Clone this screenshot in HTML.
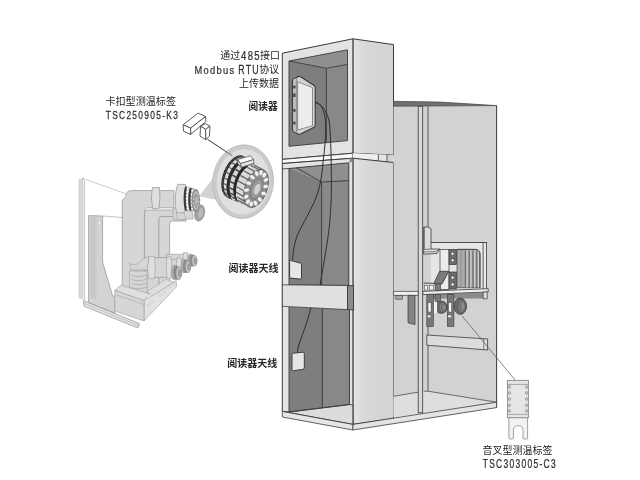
<!DOCTYPE html>
<html lang="zh"><head><meta charset="utf-8"><title>Wireless temperature monitoring diagram</title>
<style>
html,body{margin:0;padding:0;background:#fff;}
body{width:640px;height:480px;overflow:hidden;font-family:"Liberation Sans",sans-serif;}
svg{display:block;filter:grayscale(1) blur(0.3px);}
text{font-family:"Liberation Sans",sans-serif;fill:#333;}
text.cjk{font-family:"Liberation Sans","Noto Sans CJK SC",sans-serif;fill:#262626;}
</style></head><body>
<svg width="640" height="480" viewBox="0 0 640 480" stroke-linejoin="miter" stroke-linecap="butt">
<defs>
<linearGradient id="gside" x1="0" y1="0" x2="1" y2="0"><stop offset="0" stop-color="#e2e2e2"/><stop offset="0.35" stop-color="#d8d8d8"/><stop offset="1" stop-color="#d3d3d3"/></linearGradient>
</defs>
<rect width="640" height="480" fill="#ffffff"/>
<g id="cabinet">
<polygon points="352.9,38.8 393.5,44.6 393.5,155.2 352.9,153.2" fill="url(#gside)" stroke="#3a3a3a" stroke-width="1" />
<polygon points="282.3,53.2 352.9,38.8 352.9,153.2 282.3,159.4" fill="#e3e3e3" stroke="#3a3a3a" stroke-width="1" />
<polygon points="289,61 326.4,68.3 326.4,142.7 289,146.3" fill="#7b7e82" stroke="none" stroke-width="1" />
<polygon points="326.4,68.3 347.5,64.4 347.5,140.6 326.4,142.7" fill="#85888c" stroke="none" stroke-width="1" />
<polygon points="289,61 347.5,49.8 347.5,64.4 326.4,68.3" fill="#8c8f93" stroke="none" stroke-width="1" />
<polyline points="289,61 326.4,68.3 347.5,64.4" fill="none" stroke="#3a3a3a" stroke-width="0.9" />
<polyline points="326.4,68.3 326.4,142.7" fill="none" stroke="#3a3a3a" stroke-width="0.9" />
<polygon points="289,61 347.5,49.8 347.5,140.6 289,146.3" fill="none" stroke="#3a3a3a" stroke-width="0.9" />
<polygon points="282.3,159.4 352.9,153.2 352.9,158.2 282.3,163.5" fill="#f8f8f8" stroke="#3a3a3a" stroke-width="0.9" />
<polygon points="352.9,153.2 393.5,155.2 393.5,162.5 352.9,158.2" fill="#d2d2d2" stroke="none" stroke-width="1" />
<polygon points="352.9,153.2 378.2,154.4 378.2,160.9 352.9,158.2" fill="#eeeeee" stroke="none" stroke-width="1" />
<polygon points="378.2,154.4 387,154.8 387,161.8 378.2,160.9" fill="#e4e4e4" stroke="none" stroke-width="1" />
<polyline points="378.4,154.4 378.4,160.9" fill="none" stroke="#3a3a3a" stroke-width="0.8" />
<polyline points="387,154.8 387,161.8" fill="none" stroke="#3a3a3a" stroke-width="0.8" />
<polygon points="352.9,158.2 393.5,162.5 393.5,418.5 352.9,424.4" fill="url(#gside)" stroke="#3a3a3a" stroke-width="1" />
<polygon points="282.3,163.5 352.9,158.2 352.9,424.4 282.3,411.4" fill="#e3e3e3" stroke="#3a3a3a" stroke-width="1" />
<polygon points="289,168.5 348.8,162.8 348.8,285.5 289,285" fill="#7b7e82" stroke="none" stroke-width="1" />
<polygon points="321.6,182 348.8,180.6 348.8,285.5 321.6,285.3" fill="#85888c" stroke="none" stroke-width="1" />
<polygon points="289,168.5 348.8,162.8 348.8,180.6 321.6,182" fill="#8c8f93" stroke="none" stroke-width="1" />
<polyline points="296.5,167.8 321.6,182 348.8,180.6" fill="none" stroke="#3a3a3a" stroke-width="0.9" />
<polyline points="321.6,182 321.6,285.3" fill="none" stroke="#3a3a3a" stroke-width="0.9" />
<polygon points="289,168.5 348.8,162.8 348.8,285.5 289,285" fill="none" stroke="#3a3a3a" stroke-width="0.9" />
<polygon points="289,306.8 349.5,309.7 349.5,404.5 289,412" fill="#7b7e82" stroke="none" stroke-width="1" />
<polygon points="322.4,308.3 349.5,309.7 349.5,404.5 322.4,407.8" fill="#85888c" stroke="none" stroke-width="1" />
<polygon points="289,412 349.5,404.5 352.9,405 352.9,424.4 282.3,411.4" fill="#dcdcdc" stroke="#3a3a3a" stroke-width="0.9" />
<polyline points="322.4,308.3 322.4,407.8" fill="none" stroke="#3a3a3a" stroke-width="0.9" />
<polyline points="289,306.8 289,412 349.5,404.5 349.5,309.7" fill="none" stroke="#3a3a3a" stroke-width="0.9" />
<polygon points="282.3,284.8 347.5,285.5 347.5,309.6 282.3,306.3" fill="#e0e0e0" stroke="#3a3a3a" stroke-width="0.8" />
<polygon points="347.5,285.5 353.5,285.7 353.5,310 347.5,309.6" fill="#8a8a8a" stroke="#3a3a3a" stroke-width="0.9" />
<polygon points="282.3,411.4 352.9,424.4 352.9,430 282.3,417" fill="#e6e6e6" stroke="#3a3a3a" stroke-width="0.8" />
<polygon points="349.6,158.5 352.4,158.3 352.4,162.1 349.6,162.4" fill="#8a8a8a" stroke="none" stroke-width="1" />
<polyline points="282.3,168.9 289,168.5" fill="none" stroke="#3a3a3a" stroke-width="0.9" />
</g>
<g id="reader">
<path d="M293.3 79 Q292.4 79.3 292.4 80.5 V129.6 Q292.4 130.8 293.4 131.3 L298 134 Q299.2 134.5 300.4 134 L314 127.3 Q315.2 126.7 315.2 125.5 V87.2 Q315.2 85.9 314 85.4 L300.3 76.6 Q299.2 76.1 298 76.7 Z" fill="#d2d2d2" stroke="#383838" stroke-width="1.1" />
<rect x="293.2" y="85.6" width="2.2" height="2.8" fill="#555" stroke="none" stroke-width="0.8" />
<rect x="293.2" y="93.4" width="2.2" height="3.6" fill="#555" stroke="none" stroke-width="0.8" />
<rect x="293.2" y="109" width="2.2" height="2.8" fill="#555" stroke="none" stroke-width="0.8" />
<rect x="293.2" y="121.6" width="2.2" height="2.8" fill="#555" stroke="none" stroke-width="0.8" />
<polygon points="293,79.6 296.7,78 296.7,132.8 293,130.8" fill="#bcbcbc" stroke="none" stroke-width="1" />
<polyline points="296.7,78.4 296.7,132.6" fill="none" stroke="#666" stroke-width="0.6" />
<rect x="293.3" y="85.6" width="2.2" height="2.8" fill="#444" stroke="none" stroke-width="0.8" />
<rect x="293.3" y="93.4" width="2.2" height="3.6" fill="#444" stroke="none" stroke-width="0.8" />
<rect x="293.3" y="109" width="2.2" height="2.8" fill="#444" stroke="none" stroke-width="0.8" />
<rect x="293.3" y="121.6" width="2.2" height="2.8" fill="#444" stroke="none" stroke-width="0.8" />
<polygon points="297.6,81.8 312.5,87.6 312.5,125.7 297.6,130" fill="#ececec" stroke="#666" stroke-width="0.7" />
<path d="M315.2 101.6 C321 103.5 324.6 110 325.6 122 C326.2 135 324.6 150 323.2 160 C322.4 170 321.6 180 318 192 C313 208 303 222 297 236 C294 245 292.8 252 292.7 260" fill="none" stroke="#2e2e2e" stroke-width="1" />
<path d="M315.2 102.6 C322 104 328 112 329.6 124 C330.8 140 331.4 160 331.4 185 C331.4 210 329 232 327.2 242 C325 258 322 272 320.2 284.8" fill="none" stroke="#2e2e2e" stroke-width="1" />
<path d="M310.8 307.6 C309 316 306.5 323 304.5 329 C302 336 299.6 342 298.6 346 C297.8 349 297.5 351 297.5 352.6" fill="none" stroke="#2e2e2e" stroke-width="1" />
<path d="M290.6 260.5 L300.4 263.1 Q301.5 263.4 301.5 264.6 V278 Q301.5 279.2 300.4 279.1 L290.6 278.1 Q289.6 278 289.6 277 V261.4 Q289.6 260.2 290.6 260.5 Z" fill="#e6e6e6" stroke="#3c3c3c" stroke-width="1" />
<path d="M293.4 353.2 L302.8 352.2 Q304.3 352 304.3 353.5 V367.8 Q304.3 369.2 302.8 369.4 L293.4 370.7 Q292 370.9 292 369.4 V354.7 Q292 353.4 293.4 353.2 Z" fill="#e6e6e6" stroke="#3c3c3c" stroke-width="1" />
</g>
<g id="rear">
<polygon points="393.5,101.3 440,102 496.6,105.6 496.6,402.2 393.5,417" fill="#d2d2d2" stroke="none" stroke-width="1" />
<polygon points="393.5,396.3 419.2,392 423.8,391.3 428,391.2 496.6,402.2 393.5,417" fill="#dedede" stroke="none" stroke-width="1" />
<polygon points="393.5,101.3 440,102 496.6,105.6 393.5,106.3" fill="#707070" stroke="#3a3a3a" stroke-width="0.6" />
<polyline points="496.6,105.6 496.6,407.6" fill="none" stroke="#3a3a3a" stroke-width="1" />
<polyline points="393.5,396.3 419.2,392" fill="none" stroke="#3a3a3a" stroke-width="0.7" />
<polyline points="423.8,391.3 428,391.2 496.6,402.2" fill="none" stroke="#3a3a3a" stroke-width="0.7" />
<rect x="418.2" y="106.3" width="4.5" height="306.5" fill="#d8d8d8" stroke="#3a3a3a" stroke-width="0.8" />
<polyline points="428,106.3 428,227.5" fill="none" stroke="#3a3a3a" stroke-width="0.8" />
<polyline points="428,325 428,391.2" fill="none" stroke="#3a3a3a" stroke-width="0.8" />
<polygon points="352.9,424.4 496.6,402.2 496.6,407.6 352.9,430" fill="#e4e4e4" stroke="#3a3a3a" stroke-width="0.8" />
<polygon points="393.5,291.4 418.2,291.4 418.2,295.4 393.5,295.4" fill="#efefef" stroke="#3a3a3a" stroke-width="0.7" />
<rect x="395.8" y="295.4" width="6.6" height="3.8" fill="#a8a8a8" stroke="#3a3a3a" stroke-width="0.6" />
<polygon points="408,295.4 415,295.4 415,324.6 408,322.8" fill="#808386" stroke="#3a3a3a" stroke-width="0.7" />
</g>
<g id="busbar">
<polygon points="431,242.5 486.6,242.5 486.6,289 431,291" fill="#e6e6e6" stroke="none" stroke-width="1" />
<polygon points="423.6,227 428,227 431,228.8 431,249 439.6,249 437,253.5 423.6,254.2" fill="#dcdcdc" stroke="#3a3a3a" stroke-width="0.8" />
<polyline points="424.4,227.2 424.4,249.5 431,249" fill="none" stroke="#3a3a3a" stroke-width="0.6" />
<polyline points="423.6,252 436,251.6 439.6,249" fill="none" stroke="#3a3a3a" stroke-width="0.6" />
<polyline points="431,242.5 486.6,242.5" fill="none" stroke="#3a3a3a" stroke-width="0.9" />
<rect x="483.1" y="242.5" width="3.5" height="47" fill="#e9e9e9" stroke="#3a3a3a" stroke-width="0.8" />
<rect x="440" y="249.4" width="9" height="40" fill="#ececec" stroke="#3a3a3a" stroke-width="0.7" />
<path d="M457 249.4 H475.5 Q480 249.6 480 254.5 V287.7 H457 Z" fill="#acacac" stroke="#3a3a3a" stroke-width="0.7" />
<path d="M465.4 250.4 V287.5" fill="none" stroke="#6a6a6a" stroke-width="1.2" />
<path d="M467 250.4 V287.5" fill="none" stroke="#cdcdcd" stroke-width="1.2" />
<path d="M469.2 250.4 V287.5" fill="none" stroke="#6a6a6a" stroke-width="1.2" />
<path d="M470.8 250.4 V287.5" fill="none" stroke="#cdcdcd" stroke-width="1.2" />
<path d="M473 250.4 V287.5" fill="none" stroke="#6a6a6a" stroke-width="1.2" />
<path d="M474.6 250.4 V287.5" fill="none" stroke="#cdcdcd" stroke-width="1.2" />
<path d="M476.8 250.4 V287.5" fill="none" stroke="#6a6a6a" stroke-width="1.2" />
<path d="M478.4 250.4 V287.5" fill="none" stroke="#cdcdcd" stroke-width="1.2" />
<path d="M457 249.4 H475.5 Q480 249.6 480 254.5 V287.7" fill="none" stroke="#3a3a3a" stroke-width="0.7" />
<path d="M461 249.4 V287.7" fill="none" stroke="#777" stroke-width="0.6" />
<rect x="449" y="249.4" width="7.3" height="15.2" fill="#6c6c6c" stroke="#3a3a3a" stroke-width="0.7" />
<ellipse cx="452.6" cy="253.8" rx="1.55" ry="1.55" fill="#ffffff" stroke="#3c3c3c" stroke-width="0.6" />
<ellipse cx="452.6" cy="260.3" rx="1.55" ry="1.55" fill="#ffffff" stroke="#3c3c3c" stroke-width="0.6" />
<rect x="449" y="272" width="7.3" height="17" fill="#6c6c6c" stroke="#3a3a3a" stroke-width="0.7" />
<ellipse cx="452.6" cy="277.6" rx="1.55" ry="1.55" fill="#ffffff" stroke="#3c3c3c" stroke-width="0.6" />
<ellipse cx="452.6" cy="284.4" rx="1.55" ry="1.55" fill="#ffffff" stroke="#3c3c3c" stroke-width="0.6" />
<polygon points="439.6,271.3 448.9,271.3 442,284 433.6,284" fill="#7a7a7a" stroke="#3a3a3a" stroke-width="0.8" />
<polyline points="423.6,283 433.6,283.4" fill="none" stroke="#3a3a3a" stroke-width="0.9" />
<rect x="424.4" y="285.6" width="3.2" height="4.4" fill="#f2f2f2" stroke="#3a3a3a" stroke-width="0.5" />
<rect x="429.4" y="285.6" width="4.2" height="4.4" fill="#f2f2f2" stroke="#3a3a3a" stroke-width="0.5" />
<rect x="435" y="284" width="5.6" height="7" fill="#7a7a7a" stroke="#3a3a3a" stroke-width="0.5" />
<polygon points="427.5,294.6 485,292.4 485,298.6 427.5,298.8" fill="#8c8c8c" stroke="none" stroke-width="1" />
<ellipse cx="441.2" cy="307.2" rx="6.2" ry="6.2" fill="#6a6a6a" stroke="#3a3a3a" stroke-width="0.7" />
<ellipse cx="442.75" cy="307.2" rx="3.844" ry="4.96" fill="#7e7e7e" stroke="#444" stroke-width="0.5" />
<ellipse cx="443.804" cy="307.2" rx="2.232" ry="3.41" fill="#8e8e8e" stroke="#444" stroke-width="0.5" />
<ellipse cx="444.61" cy="307.2" rx="0.992" ry="1.86" fill="#9c9c9c" stroke="#555" stroke-width="0.4" />
<ellipse cx="460.2" cy="306.2" rx="6.4" ry="8.2" fill="#6a6a6a" stroke="#3a3a3a" stroke-width="0.7" />
<ellipse cx="461.8" cy="306.2" rx="3.968" ry="6.56" fill="#7e7e7e" stroke="#444" stroke-width="0.5" />
<ellipse cx="462.888" cy="306.2" rx="2.304" ry="4.51" fill="#8e8e8e" stroke="#444" stroke-width="0.5" />
<ellipse cx="463.72" cy="306.2" rx="1.024" ry="2.46" fill="#9c9c9c" stroke="#555" stroke-width="0.4" />
<rect x="434" y="301.5" width="3" height="11.5" fill="#f0f0f0" stroke="none" stroke-width="0.8" />
<rect x="426.8" y="294.5" width="6.5" height="32" fill="#787878" stroke="#3a3a3a" stroke-width="0.6" />
<rect x="428" y="302.6" width="3.1" height="9.4" fill="#f4f4f4" stroke="#444" stroke-width="0.5" />
<rect x="427.4" y="315" width="3.5" height="2.6" fill="#f4f4f4" stroke="#444" stroke-width="0.4" />
<rect x="447.3" y="294.5" width="6.6" height="32" fill="#787878" stroke="#3a3a3a" stroke-width="0.6" />
<rect x="448.5" y="302.6" width="3.2" height="9.4" fill="#f4f4f4" stroke="#444" stroke-width="0.5" />
<rect x="447.9" y="315" width="3.6" height="2.6" fill="#f4f4f4" stroke="#444" stroke-width="0.4" />
<rect x="435" y="294.5" width="5.6" height="6.8" fill="#787878" stroke="#3a3a3a" stroke-width="0.5" />
<polygon points="422.8,291.4 488.2,288.7 488.2,291.9 422.8,294.6" fill="#f2f2f2" stroke="#3a3a3a" stroke-width="0.8" />
<polygon points="483.2,292.1 487.2,291.9 487.2,298.8 483.2,298.8" fill="#dedede" stroke="#3a3a3a" stroke-width="0.7" />
<polygon points="426.8,335 487.6,339 487.6,350 426.8,345.2" fill="#dcdcdc" stroke="#3a3a3a" stroke-width="0.8" />
<polyline points="483.8,338.8 483.8,349.6" fill="none" stroke="#3a3a3a" stroke-width="0.6" />
<polyline points="462,315.8 515,380" fill="none" stroke="#555" stroke-width="0.7" />
</g>
<g id="breaker">
<polygon points="79,179.6 83,179.2 83,299.5 79,297.5" fill="#d8d8d8" stroke="#c4c4c4" stroke-width="0.6" />
<polyline points="84.6,180.5 84.6,300.5" fill="none" stroke="#ababab" stroke-width="0.7" />
<polyline points="84.4,179 125.6,193.6" fill="none" stroke="#a8a8a8" stroke-width="0.6" />
<ellipse cx="83" cy="178.6" rx="0.9" ry="0.9" fill="#ccc" stroke="#aaa" stroke-width="0.4" />
<polygon points="83.6,300.6 139.4,323.6 138,328 84,306.2" fill="#e4e4e4" stroke="#9c9c9c" stroke-width="0.8" />
<polyline points="84,303.4 138.8,325.8" fill="none" stroke="#9c9c9c" stroke-width="0.5" />
<polygon points="88.6,215.6 102.6,216 102.6,262 112.6,296 115,296 115,313 88.6,302.6" fill="#d3d3d3" stroke="#9c9c9c" stroke-width="0.8" />
<polygon points="90,217 96.4,217.2 96.4,300 90,297.5" fill="#c8c8c8" stroke="none" stroke-width="1" />
<ellipse cx="99.5" cy="223.2" rx="1.3" ry="2.7" fill="#ffffff" stroke="#9c9c9c" stroke-width="0.5" />
<polyline points="102.6,216 122.2,217.5" fill="none" stroke="#9c9c9c" stroke-width="0.6" />
<path d="M158.6 290 V219 Q158.6 216 161.5 216 H186 V221 H172.4 Q169.6 221 169.6 224 V290 Z" fill="#d6d6d6" stroke="#9c9c9c" stroke-width="0.8" />
<path d="M144.2 292 V213.5 Q144.2 210 147.5 210 H184 V216.5 H161 Q158.8 216.5 158.8 219 V292 Z" fill="#d6d6d6" stroke="#9c9c9c" stroke-width="0.8" />
<ellipse cx="199.6" cy="213" rx="4.8" ry="8.2" fill="#a6a6a6" stroke="#777" stroke-width="0.6" transform="rotate(12 199.6 213)"/>
<ellipse cx="200.6" cy="213.2" rx="3" ry="5.6" fill="#b9b9b9" stroke="#888" stroke-width="0.4" transform="rotate(12 200.6 213.2)"/>
<polygon points="173,208 190,208 193,214 193,219 173,219" fill="#d6d6d6" stroke="#9c9c9c" stroke-width="0.6" />
<path d="M122.2 290 V200.2 L125.6 196.8 L126.3 193.6 Q127.5 190.6 131.3 190.6 H174 V207.8 H148 Q144.4 207.8 144.4 212 V290 Z" fill="#d6d6d6" stroke="#9c9c9c" stroke-width="0.8" />
<path d="M152.4 187.6 Q150.4 198 152.6 208.6 H158.8 Q160.8 198 159.4 187.6 Z" fill="#dfdfdf" stroke="#9c9c9c" stroke-width="0.8" />
<path d="M177.6 184.4 Q173.4 198 176.6 213 H184 Q187.4 199 185.6 184.4 Z" fill="#dfdfdf" stroke="#9c9c9c" stroke-width="0.8" />
<ellipse cx="186" cy="198.6" rx="2.4" ry="12.4" fill="#3a3a3a" stroke="none" stroke-width="0.8" />
<ellipse cx="188.3" cy="199" rx="2.4" ry="12.152" fill="#dcdcdc" stroke="#666" stroke-width="0.5" />
<ellipse cx="187.52" cy="188.68" rx="1.1" ry="1.1" fill="#ffffff" stroke="none" stroke-width="0.8" />
<ellipse cx="187.2" cy="191.987" rx="1.1" ry="1.1" fill="#ffffff" stroke="none" stroke-width="0.8" />
<ellipse cx="187.047" cy="195.293" rx="1.1" ry="1.1" fill="#ffffff" stroke="none" stroke-width="0.8" />
<ellipse cx="187" cy="198.6" rx="1.1" ry="1.1" fill="#ffffff" stroke="none" stroke-width="0.8" />
<ellipse cx="187.047" cy="201.907" rx="1.1" ry="1.1" fill="#ffffff" stroke="none" stroke-width="0.8" />
<ellipse cx="187.2" cy="205.213" rx="1.1" ry="1.1" fill="#ffffff" stroke="none" stroke-width="0.8" />
<ellipse cx="187.52" cy="208.52" rx="1.1" ry="1.1" fill="#ffffff" stroke="none" stroke-width="0.8" />
<ellipse cx="190.7" cy="199.4" rx="2.5" ry="11.904" fill="#3a3a3a" stroke="none" stroke-width="0.8" />
<ellipse cx="193" cy="199.8" rx="2.5" ry="11.656" fill="#cfcfcf" stroke="#666" stroke-width="0.5" />
<ellipse cx="192.14" cy="190.5" rx="1" ry="1" fill="#ffffff" stroke="none" stroke-width="0.8" />
<ellipse cx="191.839" cy="194.22" rx="1" ry="1" fill="#ffffff" stroke="none" stroke-width="0.8" />
<ellipse cx="191.715" cy="197.94" rx="1" ry="1" fill="#ffffff" stroke="none" stroke-width="0.8" />
<ellipse cx="191.715" cy="201.66" rx="1" ry="1" fill="#ffffff" stroke="none" stroke-width="0.8" />
<ellipse cx="191.839" cy="205.38" rx="1" ry="1" fill="#ffffff" stroke="none" stroke-width="0.8" />
<ellipse cx="192.14" cy="209.1" rx="1" ry="1" fill="#ffffff" stroke="none" stroke-width="0.8" />
<ellipse cx="195.8" cy="200.4" rx="3.9" ry="11.16" fill="#9c9c9c" stroke="#6a6a6a" stroke-width="0.6" />
<ellipse cx="198.859" cy="201.821" rx="0.8" ry="1.3" fill="#dedede" stroke="#7a7a7a" stroke-width="0.3" />
<ellipse cx="198.268" cy="205.661" rx="0.8" ry="1.3" fill="#dedede" stroke="#7a7a7a" stroke-width="0.3" />
<ellipse cx="197.123" cy="208.09" rx="0.8" ry="1.3" fill="#dedede" stroke="#7a7a7a" stroke-width="0.3" />
<ellipse cx="195.731" cy="208.46" rx="0.8" ry="1.3" fill="#dedede" stroke="#7a7a7a" stroke-width="0.3" />
<ellipse cx="194.464" cy="206.669" rx="0.8" ry="1.3" fill="#dedede" stroke="#7a7a7a" stroke-width="0.3" />
<ellipse cx="193.663" cy="203.199" rx="0.8" ry="1.3" fill="#dedede" stroke="#7a7a7a" stroke-width="0.3" />
<ellipse cx="193.541" cy="198.979" rx="0.8" ry="1.3" fill="#dedede" stroke="#7a7a7a" stroke-width="0.3" />
<ellipse cx="194.132" cy="195.139" rx="0.8" ry="1.3" fill="#dedede" stroke="#7a7a7a" stroke-width="0.3" />
<ellipse cx="195.277" cy="192.71" rx="0.8" ry="1.3" fill="#dedede" stroke="#7a7a7a" stroke-width="0.3" />
<ellipse cx="196.669" cy="192.34" rx="0.8" ry="1.3" fill="#dedede" stroke="#7a7a7a" stroke-width="0.3" />
<ellipse cx="197.936" cy="194.131" rx="0.8" ry="1.3" fill="#dedede" stroke="#7a7a7a" stroke-width="0.3" />
<ellipse cx="198.737" cy="197.601" rx="0.8" ry="1.3" fill="#dedede" stroke="#7a7a7a" stroke-width="0.3" />
<ellipse cx="196.4" cy="200.6" rx="1.7" ry="4.464" fill="#bebebe" stroke="#7a7a7a" stroke-width="0.4" />
<polygon points="176,213 184,213 186,219.6 178,219.6" fill="#d6d6d6" stroke="#9c9c9c" stroke-width="0.5" />
<path d="M166 254.2 H186.5 V265 H166 Z" fill="#d6d6d6" stroke="#9c9c9c" stroke-width="0.6" />
<path d="M183.5 252.6 Q182.1 259.6 183.5 266.6 H187.5 Q188.9 259.6 187.5 252.6 Z" fill="#dfdfdf" stroke="#9c9c9c" stroke-width="0.6" />
<ellipse cx="190" cy="260.2" rx="2.6" ry="6.4" fill="#b4b4b4" stroke="#888" stroke-width="0.5" />
<ellipse cx="192.2" cy="260.5" rx="2.6" ry="6" fill="#8e8e8e" stroke="#777" stroke-width="0.5" />
<ellipse cx="194.4" cy="260.8" rx="2.7" ry="5.6" fill="#c2c2c2" stroke="#808080" stroke-width="0.5" />
<ellipse cx="195.4" cy="260.9" rx="1.6" ry="2.97" fill="#a4a4a4" stroke="#808080" stroke-width="0.4" />
<path d="M158 259.4 H180 V271.4 H158 Z" fill="#d6d6d6" stroke="#9c9c9c" stroke-width="0.6" />
<path d="M177 257.8 Q175.6 265.4 177 273 H181 Q182.4 265.4 181 257.8 Z" fill="#dfdfdf" stroke="#9c9c9c" stroke-width="0.6" />
<ellipse cx="183.6" cy="266" rx="2.6" ry="7" fill="#b4b4b4" stroke="#888" stroke-width="0.5" />
<ellipse cx="185.8" cy="266.3" rx="2.6" ry="6.6" fill="#8e8e8e" stroke="#777" stroke-width="0.5" />
<ellipse cx="188" cy="266.6" rx="2.7" ry="6.2" fill="#c2c2c2" stroke="#808080" stroke-width="0.5" />
<ellipse cx="189" cy="266.7" rx="1.6" ry="3.3" fill="#a4a4a4" stroke="#808080" stroke-width="0.4" />
<path d="M146 258 Q150 256.6 156 257.6 H169.4 V277.4 H150 Q146 277.4 146 274 Z" fill="#d6d6d6" stroke="#9c9c9c" stroke-width="0.8" />
<path d="M148.6 256.4 Q146.2 267 148.6 278.8 H154.2 Q156.8 267 154.2 256.4 Z" fill="#dfdfdf" stroke="#9c9c9c" stroke-width="0.6" />
<path d="M167 256.8 Q165.4 267 167 278.4 H171 Q173 267 171 256.8 Z" fill="#dfdfdf" stroke="#9c9c9c" stroke-width="0.6" />
<ellipse cx="174" cy="272.4" rx="2.8" ry="7.4" fill="#b4b4b4" stroke="#888" stroke-width="0.5" />
<ellipse cx="176.4" cy="272.8" rx="2.8" ry="7" fill="#8a8a8a" stroke="#777" stroke-width="0.5" />
<ellipse cx="178.8" cy="273.2" rx="2.9" ry="6.6" fill="#c2c2c2" stroke="#808080" stroke-width="0.5" />
<ellipse cx="179.8" cy="273.3" rx="1.8" ry="3.8" fill="#a4a4a4" stroke="#808080" stroke-width="0.4" />
<path d="M129.6 263.6 Q136 266.4 140 262 Q143.6 256.6 149 257.4 L147 270 H131 Z" fill="#d6d6d6" stroke="#9c9c9c" stroke-width="0.6" />
<path d="M129.4 271 H147.2 V294 Q138 298 129.4 292 Z" fill="#d6d6d6" stroke="#9c9c9c" stroke-width="0.6" />
<path d="M131.4 275.4 Q139 278.4 147 274.8" fill="none" stroke="#9c9c9c" stroke-width="0.6" />
<path d="M131.4 279.4 Q139 282.4 147 278.8" fill="none" stroke="#9c9c9c" stroke-width="0.6" />
<path d="M131.4 283.4 Q139 286.4 147 282.8" fill="none" stroke="#9c9c9c" stroke-width="0.6" />
<path d="M131.4 287.4 Q139 290.4 147 286.8" fill="none" stroke="#9c9c9c" stroke-width="0.6" />
<polygon points="144,300.6 176.2,280.6 176.6,286.6 144,321" fill="#e2e2e2" stroke="#9c9c9c" stroke-width="0.6" />
<polygon points="148.6,303.8 153.2,300.4 153.2,302 148.6,305.4" fill="#ffffff" stroke="#9c9c9c" stroke-width="0.4" />
<polygon points="160,294.6 164.6,291.2 164.6,292.8 160,296.2" fill="#ffffff" stroke="#9c9c9c" stroke-width="0.4" />
<polygon points="170,286 174.6,282.6 174.6,284.2 170,287.6" fill="#ffffff" stroke="#9c9c9c" stroke-width="0.4" />
<polygon points="147,291.5 166,279.5 174,282 152,296" fill="#dfdfdf" stroke="#9c9c9c" stroke-width="0.5" />
<polygon points="114.8,290.4 120.6,285.2 150,293.8 144,300.6" fill="#dfdfdf" stroke="#9c9c9c" stroke-width="0.6" />
<polygon points="114.8,290.4 144,300.6 144,321 114.8,311" fill="#d6d6d6" stroke="#9c9c9c" stroke-width="0.6" />
<polyline points="114.8,294.4 144,304.6" fill="none" stroke="#9c9c9c" stroke-width="0.5" />
</g>
<g id="forktag">
<path d="M508.9 417.6 V438 Q508.9 439 509.9 439 H512.4 Q513.4 439 513.4 438 V430.4 Q513.4 425.6 518.2 425.6 Q523 425.6 523 430.4 V438 Q523 439 524 439 H526.6 Q527.6 439 527.6 438 V417.6 Z" fill="#f2f2f2" stroke="#8a8a8a" stroke-width="0.8" />
<rect x="507.4" y="380.4" width="21" height="37.3" fill="#e6e6e6" stroke="#8a8a8a" stroke-width="0.9" />
<polyline points="507.4,384.4 528.4,384.4" fill="none" stroke="#8a8a8a" stroke-width="0.7" />
<polyline points="507.4,414.4 528.4,414.4" fill="none" stroke="#8a8a8a" stroke-width="0.7" />
<ellipse cx="509.4" cy="386.9" rx="1.2" ry="1.5" fill="#c4c4c4" stroke="#8c8c8c" stroke-width="0.6" />
<ellipse cx="526.6" cy="386.9" rx="1.2" ry="1.5" fill="#c4c4c4" stroke="#8c8c8c" stroke-width="0.6" />
<ellipse cx="509.4" cy="393" rx="1.2" ry="1.5" fill="#c4c4c4" stroke="#8c8c8c" stroke-width="0.6" />
<ellipse cx="526.6" cy="393" rx="1.2" ry="1.5" fill="#c4c4c4" stroke="#8c8c8c" stroke-width="0.6" />
<ellipse cx="509.4" cy="399" rx="1.2" ry="1.5" fill="#c4c4c4" stroke="#8c8c8c" stroke-width="0.6" />
<ellipse cx="526.6" cy="399" rx="1.2" ry="1.5" fill="#c4c4c4" stroke="#8c8c8c" stroke-width="0.6" />
<ellipse cx="509.4" cy="405.2" rx="1.2" ry="1.5" fill="#c4c4c4" stroke="#8c8c8c" stroke-width="0.6" />
<ellipse cx="526.6" cy="405.2" rx="1.2" ry="1.5" fill="#c4c4c4" stroke="#8c8c8c" stroke-width="0.6" />
<ellipse cx="509.4" cy="410.9" rx="1.2" ry="1.5" fill="#c4c4c4" stroke="#8c8c8c" stroke-width="0.6" />
<ellipse cx="526.6" cy="410.9" rx="1.2" ry="1.5" fill="#c4c4c4" stroke="#8c8c8c" stroke-width="0.6" />
</g>
<g id="cliptag">
<polygon points="183.1,124.8 198.1,113.1 205.6,116.5 190.6,128.1" fill="#ffffff" stroke="#484848" stroke-width="0.9" />
<polygon points="190.6,128.1 205.6,116.5 205.8,121.6 190.6,134.4" fill="#ffffff" stroke="#484848" stroke-width="0.9" />
<polygon points="183.1,124.8 190.6,128.1 190.6,134.4 183.5,131.2" fill="#ffffff" stroke="#484848" stroke-width="0.9" />
<polygon points="200.6,126.2 205.2,123.6 210,126.2 205.6,129.4" fill="#ffffff" stroke="#484848" stroke-width="0.9" />
<polygon points="200.6,126.2 205.6,129.4 205.8,139.6 200,136.2" fill="#ffffff" stroke="#484848" stroke-width="0.9" />
<polygon points="205.6,129.4 210,126.2 209.4,136.2 205.8,139.6" fill="#ffffff" stroke="#484848" stroke-width="0.9" />
<polyline points="207.6,139.4 232,155.6" fill="none" stroke="#4a4a4a" stroke-width="0.7" />
</g>
<g id="detail">
<polygon points="200,196 214.6,176.6 217,199.4" fill="#d2d2d2" stroke="#bdbdbd" stroke-width="0.5" />
<g transform="rotate(5 243.1 181.7)">
<ellipse cx="243.1" cy="181.7" rx="30.4" ry="36.9" fill="#cbcbcb" stroke="#b4b4b4" stroke-width="0.7" />
<ellipse cx="243.3" cy="181.9" rx="27" ry="33.2" fill="#dfdfdf" stroke="#c2c2c2" stroke-width="0.5" />
</g>
<polyline points="207.6,139.4 232.4,155.8" fill="none" stroke="#4a4a4a" stroke-width="0.8" />
<ellipse cx="234.94" cy="176.52" rx="11" ry="22" fill="#2e2e2e" stroke="none" stroke-width="0.8" transform="rotate(20 234.94 176.52)"/>
<polygon points="230.615,197.56 228.435,197.475 226.453,196.754 224.729,195.418 223.315,193.507 222.255,191.081 221.579,188.212 221.31,184.988 221.455,181.506 222.01,177.873 222.957,174.199 224.269,170.596 225.905,167.172 227.815,164.032 229.942,161.272 232.221,158.975 234.582,157.212 236.954,156.035 239.265,155.48 241.445,155.565 243.427,156.286 245.151,157.622 247.401,158.431 245.645,157.07 243.627,156.336 241.408,156.25 239.055,156.814 236.639,158.013 234.235,159.809 231.915,162.147 229.749,164.957 227.804,168.154 226.139,171.64 224.803,175.309 223.839,179.05 223.274,182.749 223.126,186.294 223.4,189.576 224.088,192.498 225.168,194.968 226.607,196.913 228.363,198.274 230.381,199.008 232.6,199.094" fill="#2e2e2e" stroke="none" stroke-width="0.5" />
<polyline points="225.727,196.257 227.277,197.574" fill="none" stroke="#8a8a8a" stroke-width="0.6" />
<polyline points="223.954,194.348 225.471,195.631" fill="none" stroke="#8a8a8a" stroke-width="0.6" />
<polyline points="222.622,191.737 224.115,192.972" fill="none" stroke="#8a8a8a" stroke-width="0.6" />
<polyline points="221.786,188.526 223.264,189.702" fill="none" stroke="#8a8a8a" stroke-width="0.6" />
<polyline points="221.479,184.842 222.951,185.952" fill="none" stroke="#8a8a8a" stroke-width="0.6" />
<polyline points="221.712,180.833 223.188,181.869" fill="none" stroke="#8a8a8a" stroke-width="0.6" />
<polyline points="222.476,176.656 223.966,177.617" fill="none" stroke="#8a8a8a" stroke-width="0.6" />
<polyline points="223.742,172.478 225.255,173.362" fill="none" stroke="#8a8a8a" stroke-width="0.6" />
<polyline points="225.458,168.463 227.003,169.275" fill="none" stroke="#8a8a8a" stroke-width="0.6" />
<polyline points="227.557,164.772 229.14,165.517" fill="none" stroke="#8a8a8a" stroke-width="0.6" />
<polyline points="229.956,161.551 231.582,162.237" fill="none" stroke="#8a8a8a" stroke-width="0.6" />
<polyline points="232.559,158.927 234.233,159.565" fill="none" stroke="#8a8a8a" stroke-width="0.6" />
<polyline points="235.264,157.005 236.987,157.608" fill="none" stroke="#8a8a8a" stroke-width="0.6" />
<polyline points="237.962,155.86 239.734,156.442" fill="none" stroke="#8a8a8a" stroke-width="0.6" />
<polyline points="240.548,155.538 242.367,156.115" fill="none" stroke="#8a8a8a" stroke-width="0.6" />
<polygon points="232.797,198.138 230.677,198.056 228.749,197.354 227.072,196.054 225.696,194.196 224.665,191.836 224.008,189.045 223.746,185.909 223.887,182.522 224.426,178.988 225.348,175.414 226.624,171.909 228.215,168.579 230.073,165.525 232.142,162.84 234.359,160.606 236.656,158.89 238.963,157.745 241.211,157.206 243.331,157.288 245.259,157.99 246.936,159.29 250.032,161.018 248.355,159.718 246.427,159.016 244.307,158.934 242.059,159.473 239.752,160.618 237.455,162.334 235.238,164.568 233.169,167.253 231.311,170.307 229.72,173.637 228.444,177.142 227.522,180.716 226.983,184.25 226.842,187.637 227.104,190.773 227.761,193.564 228.792,195.924 230.168,197.782 231.845,199.082 233.773,199.784 235.893,199.866" fill="#dcdcdc" stroke="none" stroke-width="0.5" />
<polyline points="227.072,196.054 230.168,197.782" fill="none" stroke="#5e5e5e" stroke-width="1.3" />
<polyline points="225.064,192.908 228.16,194.636" fill="none" stroke="#5e5e5e" stroke-width="1.3" />
<polyline points="223.947,188.625 227.043,190.353" fill="none" stroke="#5e5e5e" stroke-width="1.3" />
<polyline points="223.805,183.524 226.901,185.252" fill="none" stroke="#5e5e5e" stroke-width="1.3" />
<polyline points="224.647,177.987 227.743,179.715" fill="none" stroke="#5e5e5e" stroke-width="1.3" />
<polyline points="226.411,172.426 229.507,174.154" fill="none" stroke="#5e5e5e" stroke-width="1.3" />
<polyline points="228.966,167.257 232.062,168.985" fill="none" stroke="#5e5e5e" stroke-width="1.3" />
<polyline points="232.121,162.865 235.217,164.593" fill="none" stroke="#5e5e5e" stroke-width="1.3" />
<polyline points="235.64,159.578 238.736,161.306" fill="none" stroke="#5e5e5e" stroke-width="1.3" />
<polyline points="239.26,157.64 242.356,159.368" fill="none" stroke="#5e5e5e" stroke-width="1.3" />
<polyline points="242.713,157.198 245.809,158.926" fill="none" stroke="#5e5e5e" stroke-width="1.3" />
<polygon points="235.775,200.44 233.595,200.355 231.613,199.634 229.889,198.298 228.475,196.387 227.415,193.961 226.739,191.092 226.47,187.868 226.615,184.386 227.17,180.753 228.117,177.079 229.429,173.476 231.065,170.052 232.975,166.912 235.102,164.152 237.381,161.855 239.742,160.092 242.114,158.915 244.425,158.36 246.605,158.445 248.587,159.166 250.311,160.502 252.11,161.73 250.402,160.406 248.438,159.691 246.278,159.607 243.988,160.157 241.637,161.323 239.297,163.071 237.039,165.347 234.932,168.082 233.039,171.193 231.418,174.585 230.118,178.156 229.179,181.797 228.63,185.397 228.486,188.847 228.753,192.042 229.422,194.884 230.473,197.289 231.874,199.182 233.582,200.506 235.546,201.221 237.706,201.305" fill="#2a2a2a" stroke="none" stroke-width="0.5" />
<polygon points="238.06,199.583 236.079,199.506 234.277,198.85 232.709,197.636 231.424,195.899 230.46,193.693 229.846,191.085 229.601,188.154 229.733,184.989 230.237,181.686 231.099,178.346 232.291,175.07 233.778,171.958 235.515,169.104 237.448,166.594 239.52,164.506 241.666,162.903 243.823,161.833 245.924,161.329 247.905,161.406 249.707,162.062 251.275,163.276 255.31,165.752 253.758,164.55 251.974,163.9 250.013,163.824 247.933,164.323 245.798,165.383 243.673,166.97 241.622,169.037 239.707,171.521 237.988,174.347 236.516,177.428 235.335,180.671 234.483,183.978 233.984,187.248 233.853,190.381 234.095,193.283 234.703,195.865 235.658,198.049 236.93,199.768 238.482,200.97 240.266,201.62 242.227,201.696" fill="#d4d4d4" stroke="none" stroke-width="0.5" />
<polyline points="232.292,197.167 236.517,199.304" fill="none" stroke="#4e4e4e" stroke-width="1.6" />
<polyline points="230.29,193.139 234.535,195.316" fill="none" stroke="#4e4e4e" stroke-width="1.6" />
<polyline points="229.597,187.692 233.849,189.923" fill="none" stroke="#4e4e4e" stroke-width="1.6" />
<polyline points="230.29,181.436 234.535,183.73" fill="none" stroke="#4e4e4e" stroke-width="1.6" />
<polyline points="232.291,175.07 236.516,177.428" fill="none" stroke="#4e4e4e" stroke-width="1.6" />
<polyline points="235.377,169.307 239.571,171.722" fill="none" stroke="#4e4e4e" stroke-width="1.6" />
<polyline points="239.203,164.79 243.359,167.251" fill="none" stroke="#4e4e4e" stroke-width="1.6" />
<polyline points="243.34,162.025 247.455,164.514" fill="none" stroke="#4e4e4e" stroke-width="1.6" />
<polyline points="247.327,161.321 251.402,163.817" fill="none" stroke="#4e4e4e" stroke-width="1.6" />
<polygon points="242.031,202.652 239.97,202.572 238.096,201.89 236.466,200.627 235.129,198.821 234.127,196.527 233.488,193.814 233.234,190.766 233.371,187.474 233.895,184.039 234.791,180.566 236.031,177.159 237.577,173.922 239.384,170.954 241.394,168.344 243.549,166.172 245.781,164.505 248.024,163.392 250.209,162.868 252.27,162.948 254.144,163.63 255.774,164.893 257.745,166.217 256.131,164.966 254.275,164.29 252.234,164.211 250.07,164.73 247.849,165.832 245.638,167.484 243.504,169.635 241.512,172.219 239.724,175.159 238.192,178.365 236.964,181.739 236.077,185.179 235.557,188.581 235.422,191.841 235.674,194.86 236.306,197.546 237.299,199.818 238.623,201.607 240.237,202.858 242.093,203.534 244.134,203.613" fill="#262626" stroke="none" stroke-width="0.5" />
<polygon points="244.331,202.657 242.389,202.581 240.623,201.939 239.087,200.748 237.827,199.046 236.882,196.884 236.281,194.328 236.041,191.456 236.17,188.354 236.664,185.118 237.508,181.844 238.677,178.634 240.134,175.584 241.836,172.787 243.731,170.328 245.761,168.281 247.865,166.71 249.978,165.661 252.037,165.167 253.979,165.243 255.745,165.885 257.281,167.076 265.379,171.148 263.811,169.934 262.009,169.278 260.028,169.201 257.927,169.705 255.77,170.775 253.624,172.378 251.552,174.466 249.619,176.976 247.882,179.83 246.395,182.942 245.203,186.218 244.341,189.558 243.837,192.861 243.705,196.026 243.95,198.957 244.564,201.565 245.528,203.771 246.813,205.508 248.381,206.722 250.183,207.378 252.164,207.455" fill="#dadada" stroke="none" stroke-width="0.5" />
<polyline points="238.678,200.289 246.396,205.039" fill="none" stroke="#666666" stroke-width="1.3" />
<polyline points="236.84,196.752 244.52,201.43" fill="none" stroke="#666666" stroke-width="1.3" />
<polyline points="236.058,192.019 243.723,196.6" fill="none" stroke="#666666" stroke-width="1.3" />
<polyline points="236.406,186.53 244.078,191" fill="none" stroke="#666666" stroke-width="1.3" />
<polyline points="237.851,180.798 245.552,185.151" fill="none" stroke="#666666" stroke-width="1.3" />
<polyline points="240.259,175.356 248.009,179.597" fill="none" stroke="#666666" stroke-width="1.3" />
<polyline points="243.404,170.711 251.219,174.857" fill="none" stroke="#666666" stroke-width="1.3" />
<polyline points="246.995,167.295 254.883,171.372" fill="none" stroke="#666666" stroke-width="1.3" />
<polyline points="250.697,165.428 258.66,169.466" fill="none" stroke="#666666" stroke-width="1.3" />
<polyline points="254.165,165.282 262.199,169.317" fill="none" stroke="#666666" stroke-width="1.3" />
<ellipse cx="256.096" cy="188.328" rx="11" ry="20" fill="#8e8e8e" stroke="#4e4e4e" stroke-width="0.8" transform="rotate(20 256.096 188.328)"/>
<ellipse cx="263.504" cy="193.453" rx="2" ry="2.9" fill="#f4f4f4" stroke="#6a6a6a" stroke-width="0.4" transform="rotate(106 263.504 193.453)"/>
<ellipse cx="259.861" cy="199.385" rx="2" ry="2.9" fill="#f4f4f4" stroke="#6a6a6a" stroke-width="0.4" transform="rotate(131.714 259.861 199.385)"/>
<ellipse cx="255.472" cy="203.128" rx="2" ry="2.9" fill="#f4f4f4" stroke="#6a6a6a" stroke-width="0.4" transform="rotate(157.429 255.472 203.128)"/>
<ellipse cx="251.207" cy="203.938" rx="2" ry="2.9" fill="#f4f4f4" stroke="#6a6a6a" stroke-width="0.4" transform="rotate(183.143 251.207 203.938)"/>
<ellipse cx="247.91" cy="201.657" rx="2" ry="2.9" fill="#f4f4f4" stroke="#6a6a6a" stroke-width="0.4" transform="rotate(208.857 247.91 201.657)"/>
<ellipse cx="246.235" cy="196.736" rx="2" ry="2.9" fill="#f4f4f4" stroke="#6a6a6a" stroke-width="0.4" transform="rotate(234.571 246.235 196.736)"/>
<ellipse cx="246.512" cy="190.15" rx="2" ry="2.9" fill="#f4f4f4" stroke="#6a6a6a" stroke-width="0.4" transform="rotate(260.286 246.512 190.15)"/>
<ellipse cx="248.688" cy="183.203" rx="2" ry="2.9" fill="#f4f4f4" stroke="#6a6a6a" stroke-width="0.4" transform="rotate(286 248.688 183.203)"/>
<ellipse cx="252.331" cy="177.271" rx="2" ry="2.9" fill="#f4f4f4" stroke="#6a6a6a" stroke-width="0.4" transform="rotate(311.714 252.331 177.271)"/>
<ellipse cx="256.72" cy="173.528" rx="2" ry="2.9" fill="#f4f4f4" stroke="#6a6a6a" stroke-width="0.4" transform="rotate(337.429 256.72 173.528)"/>
<ellipse cx="260.985" cy="172.718" rx="2" ry="2.9" fill="#f4f4f4" stroke="#6a6a6a" stroke-width="0.4" transform="rotate(363.143 260.985 172.718)"/>
<ellipse cx="264.282" cy="174.999" rx="2" ry="2.9" fill="#f4f4f4" stroke="#6a6a6a" stroke-width="0.4" transform="rotate(388.857 264.282 174.999)"/>
<ellipse cx="265.957" cy="179.92" rx="2" ry="2.9" fill="#f4f4f4" stroke="#6a6a6a" stroke-width="0.4" transform="rotate(414.571 265.957 179.92)"/>
<ellipse cx="265.68" cy="186.506" rx="2" ry="2.9" fill="#f4f4f4" stroke="#6a6a6a" stroke-width="0.4" transform="rotate(440.286 265.68 186.506)"/>
<ellipse cx="256.696" cy="188.928" rx="5.5" ry="10.4" fill="#9a9a9a" stroke="#606060" stroke-width="0.5" transform="rotate(20 256.696 188.928)"/>
<ellipse cx="257.096" cy="189.228" rx="3.08" ry="6" fill="#d2d2d2" stroke="#808080" stroke-width="0.4" transform="rotate(20 257.096 189.228)"/>
<polygon points="237.6,159.6 250.6,155.8 253.6,159.6 240.6,163.6" fill="#fbfbfb" stroke="#4a4a4a" stroke-width="0.7" />
<polygon points="240.6,163.6 253.6,159.6 253.8,163.4 241,167.4" fill="#e6e6e6" stroke="#4a4a4a" stroke-width="0.7" />
<polygon points="237.6,159.6 240.6,163.6 241,167.4 237.8,163.4" fill="#d6d6d6" stroke="#4a4a4a" stroke-width="0.7" />
</g>
<g id="labels" fill="#262626" stroke="none">
<text class="cjk" x="220.2" y="59.4" font-size="10">通过</text>
<text transform="translate(241.08 60.00) scale(0.770 1)" font-size="12.32" letter-spacing="1.689" fill="#262626" stroke="#262626" stroke-width="0.25">485</text>
<text class="cjk" x="259.9" y="59.4" font-size="10">接口</text>
<text transform="translate(194.54 73.90) scale(0.803 1)" font-size="11.59" letter-spacing="1.620" fill="#262626" stroke="#262626" stroke-width="0.25">Modbus</text>
<text transform="translate(238.18 73.90) scale(0.721 1)" font-size="12.21" letter-spacing="1.802" fill="#262626" stroke="#262626" stroke-width="0.25">RTU</text>
<text class="cjk" x="259.2" y="73.3" font-size="10">协议</text>
<text class="cjk" x="239" y="87.1" font-size="10">上传数据</text>
<text class="cjk" x="248.6" y="110" font-size="9.7" font-weight="700">阅读器</text>
<text class="cjk" x="105.4" y="104.7" font-size="10.1">卡扣型测温标签</text>
<text transform="translate(105.71 119.00) scale(0.724 1)" font-size="11.60" letter-spacing="1.797" fill="#262626" stroke="#262626" stroke-width="0.25">TSC250905-K3</text>
<text class="cjk" x="228.6" y="272.1" font-size="10" font-weight="700">阅读器天线</text>
<text class="cjk" x="227.2" y="367" font-size="10" font-weight="700">阅读器天线</text>
<text class="cjk" x="482.5" y="454.1" font-size="10">音叉型测温标签</text>
<text transform="translate(482.71 467.50) scale(0.695 1)" font-size="12.17" letter-spacing="1.871" fill="#262626" stroke="#262626" stroke-width="0.25">TSC303005-C3</text>
</g>
</svg>
</body></html>
